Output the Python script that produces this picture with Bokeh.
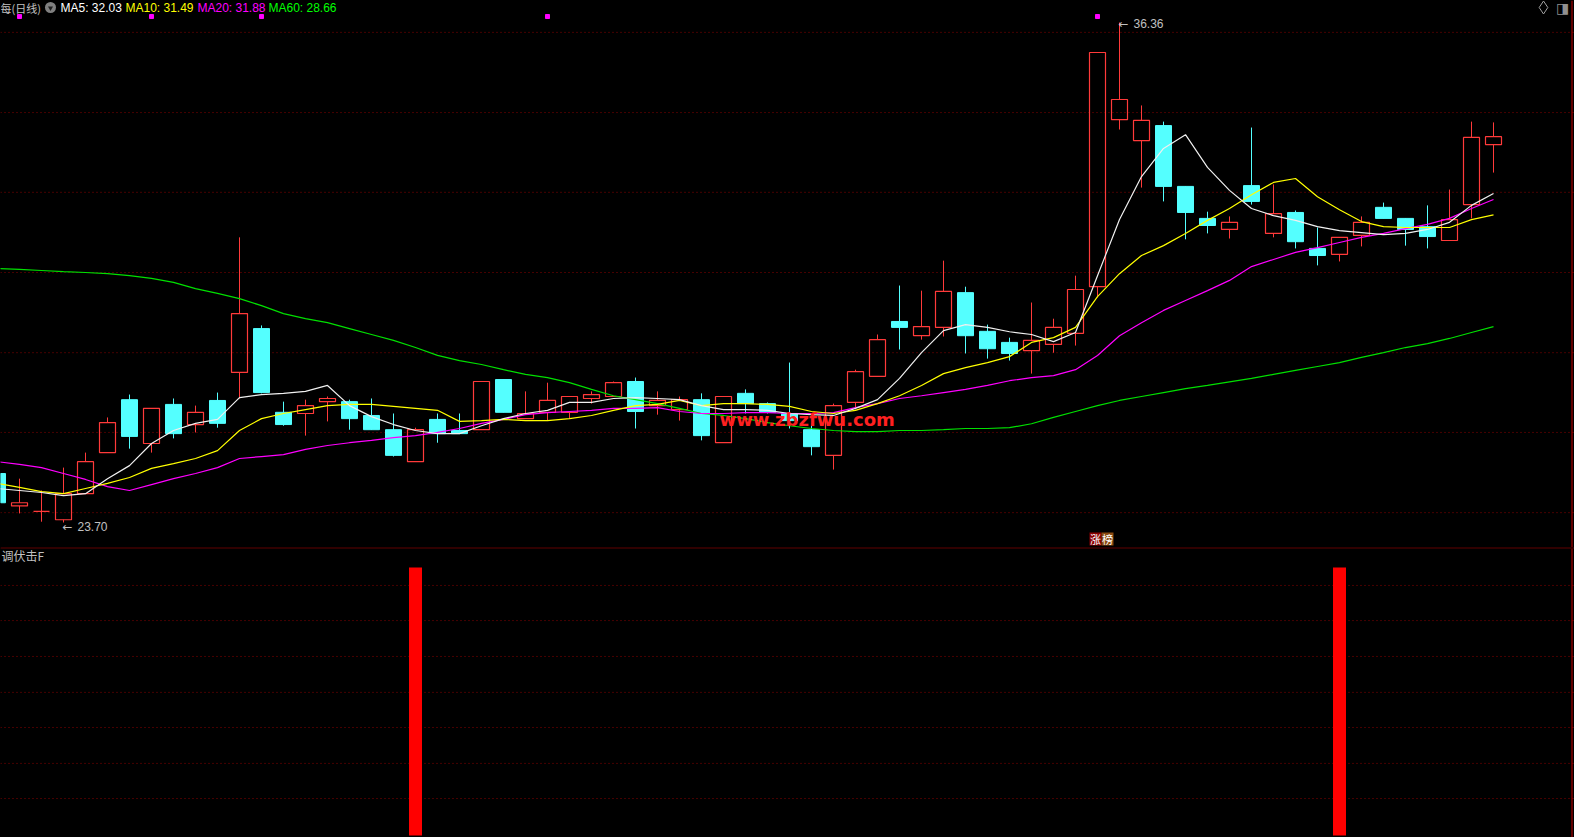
import numpy as np
from bokeh.plotting import figure
from bokeh.layouts import column
from bokeh.models import Range1d, Span, ColumnDataSource
from bokeh.embed import file_html
from bokeh.resources import INLINE
from bokeh.core.properties import value

# ---------------- data ----------------
index = list(range(-1, 68))
opens = [24.94, 24.12, 23.98, 23.77, 24.43, 25.47, 26.81, 25.70, 26.69, 26.18,
         26.79, 27.50, 28.61, 26.49, 26.46, 26.76, 26.76, 26.41, 26.05, 25.24,
         26.31, 26.03, 26.05, 27.32, 26.33, 26.49, 26.49, 26.84, 26.89, 27.27,
         26.66, 26.56, 26.81, 25.72, 26.97, 26.71, 26.46, 26.05, 25.40, 26.74,
         27.40, 28.79, 28.43, 28.64, 29.52, 28.54, 28.26, 28.05, 28.21, 28.49,
         29.67, 33.90, 33.37, 33.75, 32.21, 31.40, 31.12, 32.23, 31.02, 31.55,
         30.64, 30.49, 30.97, 31.68, 31.40, 31.19, 30.84, 31.75, 33.27]
closes = [24.20, 24.20, 23.98, 24.43, 25.24, 26.23, 25.88, 26.59, 25.95, 26.49,
          26.21, 28.99, 26.99, 26.18, 26.66, 26.84, 26.33, 26.05, 25.40, 26.05,
          25.95, 25.95, 27.27, 26.49, 26.46, 26.79, 26.89, 26.94, 27.24, 26.51,
          26.79, 26.81, 25.90, 26.89, 26.71, 26.49, 26.28, 25.62, 26.66, 27.52,
          28.33, 28.64, 28.66, 29.55, 28.43, 28.10, 27.98, 28.31, 28.64, 29.60,
          35.60, 34.41, 33.88, 32.21, 31.55, 31.22, 31.30, 31.83, 31.52, 30.81,
          30.46, 30.92, 31.30, 31.40, 31.12, 30.94, 31.37, 33.45, 33.47]
highs = [24.94, 24.81, 24.51, 25.09, 25.47, 26.36, 26.94, 26.59, 26.84, 26.66,
         26.99, 30.92, 28.69, 26.76, 26.81, 26.89, 26.81, 26.84, 26.46, 26.10,
         26.46, 26.46, 27.27, 27.32, 27.02, 27.24, 26.89, 27.02, 27.27, 27.37,
         27.02, 26.89, 26.97, 26.89, 27.07, 26.74, 27.75, 26.21, 26.71, 27.57,
         28.46, 29.70, 29.57, 30.33, 29.67, 28.71, 28.38, 29.27, 28.86, 29.95,
         35.60, 36.36, 34.26, 33.85, 32.21, 31.57, 31.45, 33.70, 32.26, 31.60,
         31.17, 30.92, 31.45, 31.80, 31.40, 31.73, 32.13, 33.85, 33.83]
lows = [24.20, 23.93, 23.72, 23.70, 24.43, 25.47, 25.57, 25.47, 25.83, 25.98,
        26.10, 26.84, 26.97, 26.15, 25.90, 26.26, 26.05, 26.05, 25.37, 25.24,
        25.72, 25.95, 26.05, 26.49, 26.33, 26.28, 26.33, 26.71, 26.89, 26.08,
        26.43, 26.28, 25.78, 25.72, 26.46, 26.46, 26.08, 25.40, 25.04, 26.56,
        27.40, 28.08, 28.33, 28.41, 27.98, 27.85, 27.80, 27.47, 28.00, 28.18,
        29.40, 33.65, 32.18, 31.83, 30.87, 31.02, 30.89, 31.75, 30.92, 30.64,
        30.21, 30.31, 30.69, 31.40, 30.71, 30.64, 30.84, 31.40, 32.56]
ma5 = [24.56, 24.51, 24.46, 24.38, 24.43, 24.81, 25.14, 25.70, 26.03, 26.21,
       26.31, 26.86, 26.94, 26.97, 27.02, 27.17, 26.66, 26.38, 26.18, 26.03,
       25.95, 25.95, 26.15, 26.33, 26.46, 26.54, 26.74, 26.74, 26.84, 26.86,
       26.84, 26.81, 26.66, 26.56, 26.56, 26.54, 26.46, 26.43, 26.41, 26.59,
       26.81, 27.35, 28.00, 28.56, 28.71, 28.64, 28.53, 28.46, 28.28, 28.51,
       29.95, 31.37, 32.46, 33.17, 33.52, 32.69, 32.11, 31.65, 31.47, 31.35,
       31.19, 31.09, 31.04, 30.99, 31.02, 31.12, 31.30, 31.73, 32.03]
ma10 = [24.69, 24.59, 24.48, 24.43, 24.56, 24.69, 24.84, 25.07, 25.19, 25.32,
        25.52, 26.03, 26.33, 26.46, 26.56, 26.66, 26.69, 26.69, 26.64, 26.59,
        26.54, 26.26, 26.28, 26.31, 26.28, 26.28, 26.33, 26.41, 26.54, 26.66,
        26.69, 26.79, 26.66, 26.71, 26.71, 26.69, 26.64, 26.51, 26.46, 26.54,
        26.71, 26.91, 27.17, 27.47, 27.62, 27.75, 27.90, 28.26, 28.38, 28.64,
        29.42, 30.00, 30.46, 30.71, 31.02, 31.35, 31.65, 32.00, 32.31, 32.41,
        31.95, 31.62, 31.32, 31.19, 31.17, 31.17, 31.17, 31.37, 31.49]
ma20 = [25.24, 25.17, 25.09, 24.94, 24.79, 24.61, 24.51, 24.66, 24.81, 24.94,
        25.09, 25.32, 25.37, 25.42, 25.55, 25.65, 25.72, 25.78, 25.85, 25.90,
        25.98, 26.08, 26.21, 26.31, 26.43, 26.48, 26.51, 26.54, 26.59, 26.59,
        26.61, 26.51, 26.46, 26.46, 26.48, 26.48, 26.46, 26.46, 26.48, 26.61,
        26.71, 26.84, 26.91, 26.99, 27.07, 27.17, 27.29, 27.37, 27.42, 27.57,
        27.93, 28.43, 28.76, 29.07, 29.32, 29.57, 29.83, 30.18, 30.36, 30.54,
        30.66, 30.79, 30.92, 31.02, 31.14, 31.25, 31.40, 31.65, 31.88]
ma60 = [30.13, 30.11, 30.08, 30.05, 30.03, 30.00, 29.95, 29.88, 29.78, 29.62,
        29.50, 29.37, 29.19, 28.99, 28.86, 28.76, 28.61, 28.46, 28.31, 28.13,
        27.93, 27.80, 27.70, 27.57, 27.45, 27.37, 27.24, 27.07, 26.91, 26.81,
        26.71, 26.59, 26.46, 26.41, 26.33, 26.23, 26.15, 26.08, 26.03, 26.00,
        26.00, 26.03, 26.03, 26.05, 26.08, 26.08, 26.10, 26.20, 26.36, 26.51,
        26.66, 26.79, 26.89, 26.99, 27.09, 27.17, 27.26, 27.35, 27.45, 27.55,
        27.65, 27.75, 27.88, 28.00, 28.13, 28.23, 28.36, 28.51, 28.66]
ma_names = ["MA5", "MA10", "MA20", "MA60"]
ma_last = [32.03, 31.49, 31.88, 28.66]
info_mark_idx = [0, 6, 11, 24, 49]
limit_up_idx = 49
signal_idx = [18, 60]
signal_val = [1, 1]
grid_top = [36.11, 34.08, 32.06, 30.03, 28.00, 25.98, 23.95]
grid_bot = [0.138, 0.269, 0.403, 0.534, 0.668, 0.802, 0.933]
stock_title = "每(日线)"
panel2_title = "调伏击F"
watermark = "www.zbzfwu.com"
limit_chars = ["涨", "榜"]

# ---------------- layout / style ----------------
W, H_TOP, H_BOT = 1574, 547, 290
SLOT, X0 = 22.0, 19.0
BODY_W = 16.0 / SLOT
RED, CYAN = "#ff3a3a", "#54ffff"
GRID_C = "#8c0000"
TXT = "#c0c0c0"
LAT = value("Liberation Sans")
CJK = value("Noto Sans CJK SC")

x_start = -X0 / SLOT
x_end = x_start + W / SLOT
xr = Range1d(x_start, x_end)

hi, lo = max(highs), min(lows)
PAD_T, PAD_B = 22, 25
k = (H_TOP - PAD_T - PAD_B) / (hi - lo)
yt0, yt1 = lo - PAD_B / k, hi + PAD_T / k


def X(px):
    return x_start + px / SLOT


def YT(py):
    return yt1 - py / k


p = figure(width=W, height=H_TOP, x_range=xr, y_range=Range1d(yt0, yt1),
           output_backend="svg", toolbar_location=None,
           x_axis_location=None, y_axis_location=None,
           min_border=0, background_fill_color="#000000",
           border_fill_color="#000000", outline_line_color=None)
p.xgrid.grid_line_color = None
p.ygrid.grid_line_color = None

for lvl in grid_top:
    p.add_layout(Span(location=lvl, dimension="width", line_color=GRID_C,
                      line_dash="1 3", line_width=1, level="underlay"))
p.add_layout(Span(location=X(1571.5), dimension="height", line_color="#c00000",
                  line_width=1))

o, c = np.array(opens), np.array(closes)
h, l = np.array(highs), np.array(lows)
xi = np.array(index)
up = c >= o
top = np.maximum(o, c)
bot = np.minimum(o, c)

src_up = ColumnDataSource(dict(x=xi[up], top=top[up], bot=bot[up], h=h[up], l=l[up]))
src_dn = ColumnDataSource(dict(x=xi[~up], top=top[~up], bot=bot[~up], h=h[~up], l=l[~up]))

p.segment(x0="x", y0="h", x1="x", y1="top", source=src_up, line_color=RED, line_width=1)
p.segment(x0="x", y0="bot", x1="x", y1="l", source=src_up, line_color=RED, line_width=1)
p.vbar(x="x", top="top", bottom="bot", width=BODY_W, source=src_up,
       fill_color=None, line_color=RED, line_width=1.2)
p.segment(x0="x", y0="h", x1="x", y1="l", source=src_dn, line_color=CYAN, line_width=1)
p.vbar(x="x", top="top", bottom="bot", width=BODY_W, source=src_dn,
       fill_color=CYAN, line_color=CYAN, line_width=1)

p.line(index, ma60, line_color="#00e000", line_width=1.2)
p.line(index, ma20, line_color="#ff00ff", line_width=1.2)
p.line(index, ma10, line_color="#ffff00", line_width=1.2)
p.line(index, ma5, line_color="#f0f0f0", line_width=1.2)

# high / low markers
imax, imin = int(np.argmax(h)), int(np.argmin(l))
for (ii, yy, yo) in [(imax, h[imax], 1), (imin, l[imin], 4)]:
    p.text(x=[xi[ii]], y=[yy], text=["←"], text_font=value("DejaVu Sans"),
           text_font_size="12px", text_color=TXT, text_align="left",
           text_baseline="middle", x_offset=-1, y_offset=yo)
    p.text(x=[xi[ii]], y=[yy], text=[f"{yy:.2f}"], text_font=LAT,
           text_font_size="12px", text_color=TXT, text_align="left",
           text_baseline="middle", x_offset=14, y_offset=yo)

# info marks along the top
p.scatter(x=info_mark_idx, y=[YT(16)] * len(info_mark_idx), marker="square",
          size=4, color="#ff00ff")

# watermark
p.text(x=[X(719)], y=[YT(419)], text=[watermark], text_font=value("DejaVu Sans"),
       text_font_style="bold", text_font_size="18px", text_color="#ff2020",
       text_align="left", text_baseline="middle")

# limit-up tag
tag_bg = ["#8a0000", "#8a4a10"]
for j, ch in enumerate(limit_chars):
    cx = limit_up_idx + (-2 + 12 * j) / SLOT
    p.rect(x=[cx], y=[YT(538.5)], width=12, height=13, width_units="screen",
           height_units="screen", fill_color=tag_bg[j], line_color=None)
    p.text(x=[cx], y=[YT(538.5)], text=[ch], text_font=CJK, text_font_size="11px",
           text_color="#ffffff", text_align="center", text_baseline="middle")

# header
p.text(x=[X(0)], y=[YT(7)], text=[stock_title], text_font=CJK, text_font_size="11px",
       text_color=TXT, text_align="left", text_baseline="middle")
p.scatter(x=[X(50)], y=[YT(7)], marker="circle", size=11, fill_color="#808080",
          line_color=None)
p.scatter(x=[X(50)], y=[YT(7.5)], marker="inverted_triangle", size=5,
          fill_color="#202020", line_color=None)
ma_cols = ["#ffffff", "#ffff00", "#ff00ff", "#00ff00"]
ma_px = [60, 125, 197, 268]
for name, v, col, px in zip(ma_names, ma_last, ma_cols, ma_px):
    p.text(x=[X(px)], y=[YT(7)], text=[f"{name}: {v:.2f}"], text_font=LAT,
           text_font_size="12px", text_color=col, text_align="left",
           text_baseline="middle")
p.scatter(x=[X(1543)], y=[YT(7)], marker="diamond", size=13, fill_color=None,
          line_color="#a0a0a0", line_width=1)
p.text(x=[X(1562)], y=[YT(7)], text=["◨"], text_font=value("DejaVu Sans"),
       text_font_size="14px", text_color="#909090", text_align="center",
       text_baseline="middle")

# ---------------- indicator panel ----------------
FB = H_BOT - 1
BP_T, BP_B = 19, 2
sb = (FB - BP_T - BP_B) / max(signal_val)
yb0, yb1 = -BP_B / sb, max(signal_val) + BP_T / sb


def YB(py):
    return yb1 - (py - 548) / sb


q = figure(width=W, height=H_BOT, x_range=xr, y_range=Range1d(yb0, yb1),
           output_backend="svg", toolbar_location=None,
           x_axis_location=None, y_axis_location=None,
           min_border_left=0, min_border_right=0, min_border_bottom=0,
           min_border_top=1, background_fill_color="#000000",
           border_fill_color="#c00000", outline_line_color=None)
q.xgrid.grid_line_color = None
q.ygrid.grid_line_color = None
for lvl in grid_bot:
    q.add_layout(Span(location=lvl, dimension="width", line_color=GRID_C,
                      line_dash="1 3", line_width=1, level="underlay"))
q.add_layout(Span(location=X(1571.5), dimension="height", line_color="#c00000",
                  line_width=1))
q.vbar(x=signal_idx, top=signal_val, bottom=0, width=13.0 / SLOT,
       fill_color="#ff0000", line_color=None)
q.text(x=[X(1)], y=[YB(555)], text=[panel2_title], text_font=CJK,
       text_font_size="12px", text_color=TXT, text_align="left",
       text_baseline="middle")

layout = column(p, q, spacing=0)
tmpl = ("{% block postamble %}<style>html,body{margin:0;padding:0;"
        "background:#000;overflow:hidden;}</style>{% endblock %}")
open("out.html", "w").write(file_html(layout, INLINE, template=tmpl))
